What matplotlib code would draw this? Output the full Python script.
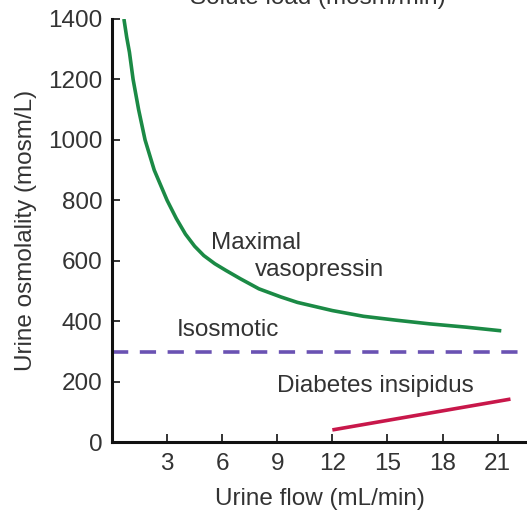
import numpy as np
import matplotlib
matplotlib.use("Agg")
import matplotlib.pyplot as plt

plt.rcParams["font.family"] = ["Liberation Sans", "DejaVu Sans"]

# maximal vasopressin curve
vaso_flow = [0.65, 0.8, 0.95, 1.15, 1.45, 1.8, 2.3, 3.0, 3.5, 4.0, 4.5, 5.0,
             5.6, 6.2, 7.0, 8.0, 9.2, 10.1, 12.0, 13.7, 15.5, 17.3, 19.3, 21.2]
vaso_osm = [1400, 1340, 1290, 1200, 1100, 1000, 900, 800, 740, 688, 648, 617,
            590, 568, 540, 507, 480, 462, 435, 416, 403, 391, 380, 368]

# diabetes insipidus line
di_flow = [12.0, 21.7]
di_osm = [40, 142]

isosmotic = 298

x_ticks = [3, 6, 9, 12, 15, 18, 21]
y_ticks = [0, 200, 400, 600, 800, 1000, 1200, 1400]

TEXT = "#333333"
FS = 17.5

fig = plt.figure(figsize=(5.27, 5.16), dpi=100)
ax = fig.add_axes([0.2125, 0.1434, 0.7875, 0.8198])

ax.plot(vaso_flow, vaso_osm, color="#1b8a45", lw=2.6,
        solid_capstyle="butt", solid_joinstyle="round")
ax.plot(di_flow, di_osm, color="#c8174a", lw=2.6, solid_capstyle="butt")
ax.axhline(isosmotic, color="#6a52b3", lw=2.6, linestyle=(0, (4.5, 3.2)))

ax.set_xlim(0, 22.6)
ax.set_ylim(0, 1400)
ax.set_xticks(x_ticks)
ax.set_yticks(y_ticks)

for side in ["top", "right"]:
    ax.spines[side].set_visible(False)
for side in ["left", "bottom"]:
    ax.spines[side].set_linewidth(2.2)
    ax.spines[side].set_color("#111111")

ax.tick_params(direction="in", length=6, width=1.2, colors="#111111",
               labelsize=FS, labelcolor=TEXT)
ax.tick_params(axis="x", pad=8)
ax.tick_params(axis="y", pad=7)

ax.set_xlabel("Urine flow (mL/min)", fontsize=FS, color=TEXT, labelpad=9)
ax.set_ylabel("Urine osmolality (mosm/L)", fontsize=FS, color=TEXT, labelpad=8)

ax.text(5.4, 659, "Maximal", fontsize=FS, color=TEXT, va="center")
ax.text(7.8, 570, "vasopressin", fontsize=FS, color=TEXT, va="center")
ax.text(3.5, 371, "Isosmotic", fontsize=FS, color=TEXT, va="center")
ax.text(9.0, 185, "Diabetes insipidus", fontsize=FS, color=TEXT, va="center")

# title is cut off at the top of the original image
fig.text(318 / 527, (516 - 4) / 516, "Solute load (mosm/min)", fontsize=FS,
         color=TEXT, ha="center", va="baseline")

fig.savefig("out.png", dpi=100)
